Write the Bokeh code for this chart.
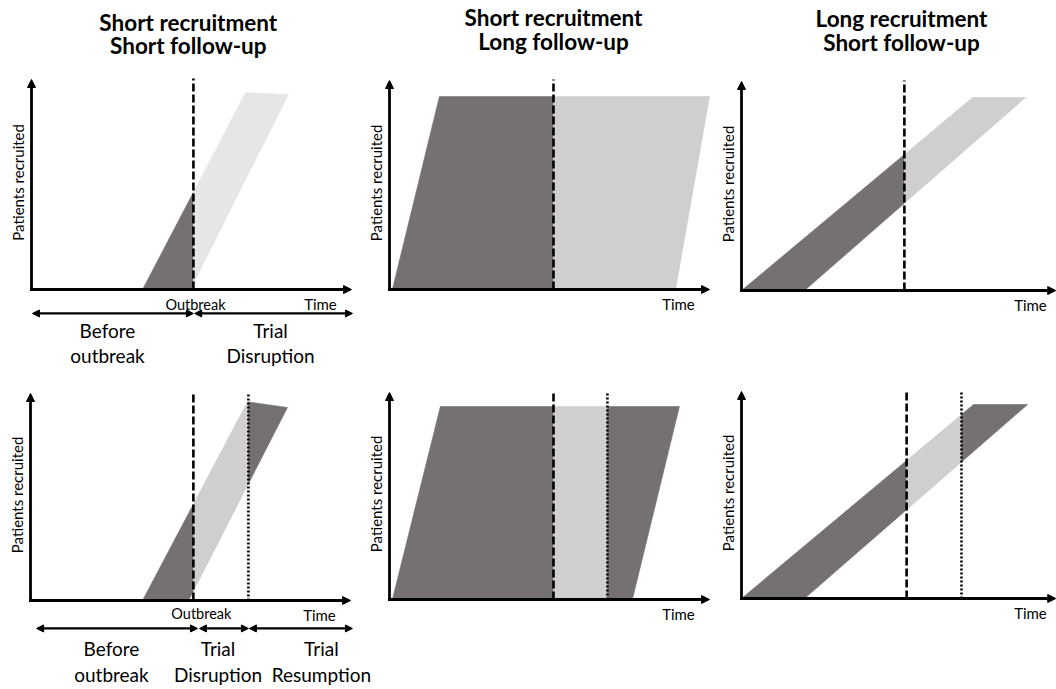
from bokeh.plotting import figure
from bokeh.models import Range1d, Arrow, NormalHead
from bokeh.core.properties import value
from bokeh.embed import file_html
from bokeh.resources import INLINE

# ---------------- data (time 0-100, patients 0-100 per panel) ----------------
col_title_line1 = ["Short recruitment", "Short recruitment", "Long recruitment"]
col_title_line2 = ["Short follow-up", "Long follow-up", "Short follow-up"]

# recruitment / follow-up band of each panel (panels: top row L->R, bottom row L->R)
entry_t0 = [34.7, 0.9, 0.0, 35.0, 0.9, 0.0]      # first patient recruited
entry_t1 = [66.9, 15.6, 72.2, 67.8, 15.9, 72.5]  # last patient recruited
exit_t0 = [49.7, 89.4, 19.7, 49.4, 75.9, 19.7]   # first patient ends follow-up
exit_t1 = [80.3, 100.0, 88.75, 80.3, 90.6, 89.4] # last patient ends follow-up
entry_n = [93.8, 92.3, 92.3, 96.0, 93.2, 93.7]   # patients at end of recruitment
exit_n = [92.9, 92.3, 92.3, 93.2, 93.2, 93.7]
outbreak_t = [50.6, 51.25, 50.9, 50.9, 51.25, 51.6]
resume_t = [None, None, None, 68.1, 68.1, 68.75]

dark_color = "#767171"
disruption_color = ["#E7E6E6", "#D0CECE", "#D0CECE", "#D0CECE", "#D0CECE", "#D0CECE"]

# ---------------- layout (page px) ----------------
W, H, MARGIN = 1056, 689, 0
origin_x = [31, 389, 741, 30, 389, 741]
origin_y = [289, 289, 290, 600, 599, 598]
px_t = 3.2
px_n = [2.1, 2.09, 2.09, 2.07, 2.07, 2.07]
x_axis_end = [100, 100, 98.2, 100, 100, 98.2]

FONT = value("Lato")

p = figure(width=W, height=H, x_range=Range1d(0, W), y_range=Range1d(0, H),
           x_axis_location=None, y_axis_location=None, toolbar_location=None,
           output_backend="svg", min_border=0, outline_line_color=None,
           background_fill_color="white", border_fill_color="white")
p.grid.visible = False

for i in range(6):
    cx = origin_x[i] - MARGIN
    cy = H - (origin_y[i] - MARGIN)
    p.extra_x_ranges[f"x{i}"] = Range1d(-cx / px_t, (W - cx) / px_t)
    p.extra_y_ranges[f"y{i}"] = Range1d(-cy / px_n[i], (H - cy) / px_n[i])


def clip_half(pts, x0, keep_right):
    out = []
    n = len(pts)
    for k in range(n):
        a, b = pts[k], pts[(k + 1) % n]
        ina = a[0] >= x0 if keep_right else a[0] <= x0
        inb = b[0] >= x0 if keep_right else b[0] <= x0
        if ina:
            out.append(a)
        if ina != inb:
            f = (x0 - a[0]) / (b[0] - a[0])
            out.append((x0, a[1] + f * (b[1] - a[1])))
    return out


def txt(i, x, y, s, size, bold=False, angle=0.0):
    p.text(x=x, y=y, text=s, text_font=FONT, text_font_size=size,
           text_font_style="bold" if bold else "normal", text_align="center",
           text_baseline="middle", text_color="black", angle=angle,
           x_range_name=f"x{i}", y_range_name=f"y{i}")


def head(size):
    return NormalHead(size=size, fill_color="black", line_color="black")


for i in range(6):
    xr, yr = f"x{i}", f"y{i}"
    band = [(entry_t0[i], 0.0), (exit_t0[i], 0.0), (exit_t1[i], exit_n[i]), (entry_t1[i], entry_n[i])]
    cuts = [outbreak_t[i]] + ([resume_t[i]] if resume_t[i] is not None else [])
    edges = [-1e9] + cuts + [1e9]
    colors = [dark_color, disruption_color[i], dark_color]
    for k in range(len(edges) - 1):
        poly = clip_half(band, edges[k], True)
        poly = clip_half(poly, edges[k + 1], False)
        if len(poly) >= 3:
            p.patch([q[0] for q in poly], [q[1] for q in poly], fill_color=colors[k],
                    line_color=colors[k], line_width=0.6, x_range_name=xr, y_range_name=yr)
    # outbreak (dashed) and resumption (dotted)
    p.line([outbreak_t[i], outbreak_t[i]], [0, 100.5], line_color="black", line_width=2.6,
           line_dash="8 3", x_range_name=xr, y_range_name=yr)
    if resume_t[i] is not None:
        p.line([resume_t[i], resume_t[i]], [0, 100.5], line_color="black", line_width=2.6,
               line_dash="2 2", x_range_name=xr, y_range_name=yr)
    # axes as arrows
    p.add_layout(Arrow(end=head(8), x_start=-0.45, y_start=0, x_end=x_axis_end[i], y_end=0,
                       line_width=2.8, line_color="black", x_range_name=xr, y_range_name=yr))
    p.add_layout(Arrow(end=head(8), x_start=0, y_start=-0.6, x_end=0, y_end=100,
                       line_width=2.8, line_color="black", x_range_name=xr, y_range_name=yr))
    txt(i, [-4.2], [51], ["Patients recruited"], "15px", angle=1.5708)
    txt(i, [90.3], [-7.0], ["Time"], "15px")

# column titles
title_x = [49.0, 51.25, 50.0]
title_y1 = [127.1, 130.1, 130.1]
title_y2 = [116.2, 118.7, 118.7]
for c in range(3):
    txt(c, [title_x[c], title_x[c]], [title_y1[c], title_y2[c]],
        [col_title_line1[c], col_title_line2[c]], "22.5px", bold=True)

# phase annotations, top-left panel
for (a, b) in [(0.3, 50.6), (51.0, 100.3)]:
    p.add_layout(Arrow(start=head(7), end=head(7), x_start=a, y_start=-11.4, x_end=b, y_end=-11.4,
                       line_width=2.2, line_color="black", x_range_name="x0", y_range_name="y0"))
txt(0, [51.25], [-7.1], ["Outbreak"], "14.5px")
txt(0, [23.75, 23.75, 74.7, 74.7], [-19.5, -31.4, -19.5, -31.4],
    ["Before", "outbreak", "Trial", "Disruption"], "19px")

# phase annotations, bottom-left panel
for (a, b) in [(1.9, 52.2), (52.8, 68.1), (68.4, 100.6)]:
    p.add_layout(Arrow(start=head(7), end=head(7), x_start=a, y_start=-13.5, x_end=b, y_end=-13.5,
                       line_width=2.2, line_color="black", x_range_name="x3", y_range_name="y3"))
txt(3, [53.4], [-6.3], ["Outbreak"], "14.5px")
txt(3, [25.3, 25.3, 58.6, 58.6, 90.9, 90.9], [-23.2, -35.7, -23.2, -35.7, -23.2, -35.7],
    ["Before", "outbreak", "Trial", "Disruption", "Trial", "Resumption"], "19px")

open("out.html", "w").write(file_html(p, INLINE))
